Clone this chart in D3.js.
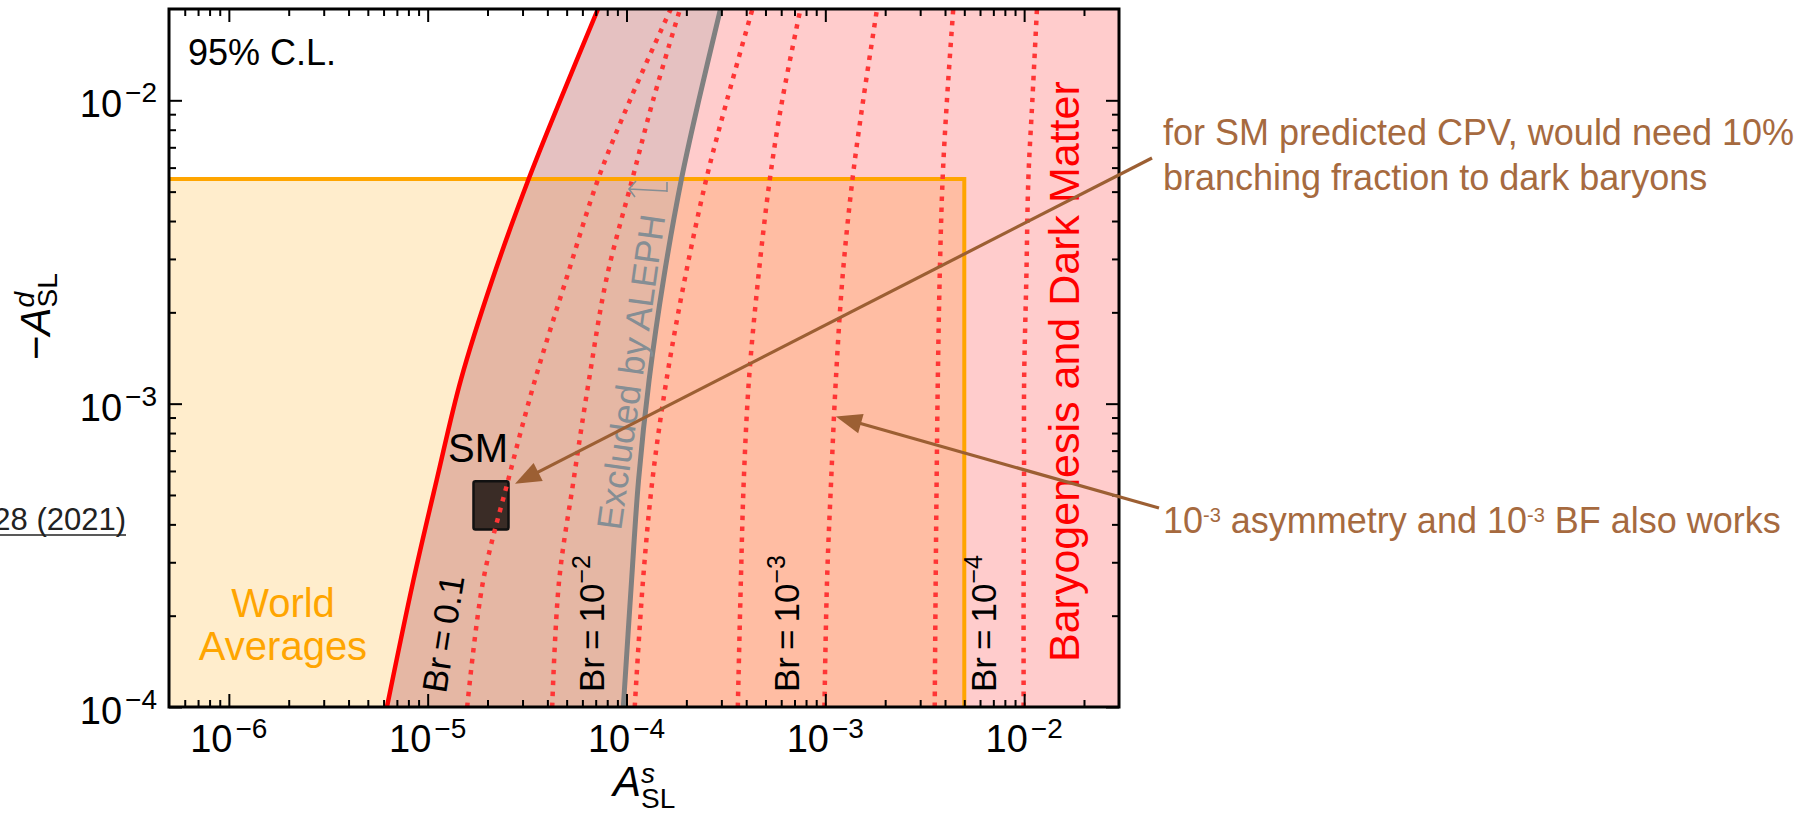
<!DOCTYPE html>
<html>
<head>
<meta charset="utf-8">
<script src="https://cdn.jsdelivr.net/npm/d3@7/dist/d3.min.js"></script>
<style>
body { margin: 0; background: #fff; }
svg { display: block; font-family: "Liberation Sans", Arial, Helvetica, sans-serif; }
</style>
</head>
<body>
<div id="chart"></div>
<script>

/****** data ******/
// -A_SL^d values where every curve below was sampled
var asdGrid = [1e-4, 2.6e-4, 5.6e-4, 1.2e-3, 2.6e-3, 5.5e-3, 1e-2, 2e-2];
// A_SL^s of the red edge of the baryogenesis region
var redEdgeX = [6.24e-6, 8.46e-6, 1.11e-5, 1.47e-5, 2.13e-5, 3.22e-5, 4.64e-5, 7.19e-5];
// A_SL^s of the ALEPH exclusion line
var alephX = [9.64e-5, 1.06e-4, 1.15e-4, 1.30e-4, 1.54e-4, 1.89e-4, 2.31e-4, 2.97e-4];
// dotted Br contours (labelled ones and the ones beside them)
var br1X  = [1.58e-5, 1.9e-5, 2.54e-5, 3.47e-5, 5.0e-5, 7.2e-5, 1.04e-4, 1.67e-4];
var br1bX = [4.23e-5, 4.58e-5, 5.42e-5, 6.48e-5, 7.95e-5, 1.07e-4, 1.36e-4, 1.86e-4];
var br2X  = [1.10e-4, 1.21e-4, 1.35e-4, 1.59e-4, 1.97e-4, 2.52e-4, 3.2e-4, 4.3e-4];
var br2bX = [3.63e-4, 3.76e-4, 3.89e-4, 4.13e-4, 4.6e-4, 5.26e-4, 6.07e-4, 7.5e-4];
var br3X  = [9.9e-4, 1.02e-3, 1.07e-3, 1.13e-3, 1.22e-3, 1.37e-3, 1.55e-3, 1.82e-3];
var br3bX = [3.55e-3, 3.59e-3, 3.63e-3, 3.68e-3, 3.76e-3, 3.89e-3, 4.09e-3, 4.4e-3];
var br4X  = [9.94e-3, 9.94e-3, 9.99e-3, 1.0e-2, 1.026e-2, 1.05e-2, 1.1e-2, 1.16e-2];
var brLabels = ["0.1", "\u22122", "\u22123", "\u22124"];
// world average box (upper corners) and SM point
var worldAvgAs = 5e-3;
var worldAvgAd = 5.5e-3;
var smAs = [1.7e-5, 2.55e-5];
var smAd = [3.85e-4, 5.55e-4];
// arrow targets
var smArrowTip = [2.75e-5, 5.44e-4];
var bfArrowTip = [1.13e-3, 9.07e-4];
// ticks
var xTickExp = [-6, -5, -4, -3, -2];
var yTickExp = [-4, -3, -2];

/****** layout ******/
var width = 1813, height = 815;
var plotLeft = 169, plotRight = 1119, plotTop = 9, plotBottom = 707;
var brown = "#9c5f33";
var brownText = "#a66a3f";

var x = d3.scaleLog().domain([5e-7, 3e-2]).range([plotLeft, plotRight]);
var y = d3.scaleLog().domain([1e-4, 2e-2]).range([plotBottom, plotTop]);

var svg = d3.select("#chart").append("svg")
    .attr("width", width)
    .attr("height", height);

svg.append("clipPath").attr("id", "plotClip")
    .append("rect")
    .attr("x", plotLeft).attr("y", plotTop)
    .attr("width", plotRight - plotLeft).attr("height", plotBottom - plotTop);

var plot = svg.append("g").attr("clip-path", "url(#plotClip)");
var labels = svg.append("g");

var rows = asdGrid.map(function (d, i) {
    return {ad: d, edge: redEdgeX[i], aleph: alephX[i]};
});

// world averages fill
plot.append("rect")
    .attr("x", x.range()[0])
    .attr("y", y(worldAvgAd))
    .attr("width", x(worldAvgAs) - x.range()[0])
    .attr("height", y(1e-4) - y(worldAvgAd))
    .attr("fill", "#ffa500")
    .attr("fill-opacity", 0.2);

// baryogenesis region: right of the red edge
var bdmArea = d3.area()
    .curve(d3.curveCatmullRom)
    .y(function (d) { return y(d.ad); })
    .x0(function (d) { return x(d.edge); })
    .x1(plotRight + 5);
plot.append("path").datum(rows)
    .attr("d", bdmArea)
    .attr("fill", "#ff0000")
    .attr("fill-opacity", 0.2);

// ALEPH excluded band
var alephArea = d3.area()
    .curve(d3.curveCatmullRom)
    .y(function (d) { return y(d.ad); })
    .x0(function (d) { return x(d.edge); })
    .x1(function (d) { return x(d.aleph); });
plot.append("path").datum(rows)
    .attr("d", alephArea)
    .attr("fill", "#a9a9a9")
    .attr("fill-opacity", 0.3);

// world averages outline
plot.append("path")
    .attr("d", "M" + (plotLeft - 5) + "," + y(worldAvgAd) + "H" + x(worldAvgAs) + "V" + (plotBottom + 5))
    .attr("fill", "none")
    .attr("stroke", "#ffa500")
    .attr("stroke-width", 4);

var curveLine = d3.line()
    .curve(d3.curveCatmullRom)
    .x(function (d) { return x(d[0]); })
    .y(function (d) { return y(d[1]); });

function pairs(xs) {
    return xs.map(function (v, i) { return [v, asdGrid[i]]; });
}

plot.append("path").datum(pairs(alephX))
    .attr("d", curveLine)
    .attr("fill", "none")
    .attr("stroke", "#808080")
    .attr("stroke-width", 5);

plot.append("path").datum(pairs(redEdgeX))
    .attr("d", curveLine)
    .attr("fill", "none")
    .attr("stroke", "#ff0000")
    .attr("stroke-width", 4.5);

// SM box
plot.append("rect")
    .attr("x", x(smAs[0]))
    .attr("y", y(smAd[1]))
    .attr("width", x(smAs[1]) - x(smAs[0]))
    .attr("height", y(smAd[0]) - y(smAd[1]))
    .attr("rx", 2)
    .attr("fill", "#3a2c26")
    .attr("stroke", "#111")
    .attr("stroke-width", 2.5);

// dotted Br contours
[br1X, br1bX, br2X, br2bX, br3X, br3bX, br4X].forEach(function (xs) {
    plot.append("path").datum(pairs(xs))
        .attr("d", curveLine)
        .attr("fill", "none")
        .attr("stroke", "#ff3535")
        .attr("stroke-width", 4.5)
        .attr("stroke-dasharray", "4.5,6.5");
});

/****** in-plot text ******/
labels.append("text").attr("x", 188).attr("y", 65)
    .attr("font-size", 36).text("95% C.L.");

labels.append("text").attr("x", 448).attr("y", 462)
    .attr("font-size", 40).text("SM");

var wa = labels.append("text").attr("font-size", 40).attr("fill", "#ffa500").attr("text-anchor", "middle");
wa.append("tspan").attr("x", 283).attr("y", 617).text("World");
wa.append("tspan").attr("x", 283).attr("y", 660).text("Averages");

function brLabel(tx, ty, angle, label) {
    var t = labels.append("text")
        .attr("transform", "translate(" + tx + "," + ty + ") rotate(" + angle + ")")
        .attr("font-size", 35);
    if (label === "0.1") {
        t.append("tspan").text("Br\u2009=\u20090.1");
    } else {
        t.append("tspan").text("Br\u2009=\u200910");
        t.append("tspan").attr("dy", -14).attr("font-size", 25).text(label);
    }
}
brLabel(446, 694, -81, brLabels[0]);
brLabel(604, 692, -90, brLabels[1]);
brLabel(799, 692, -90, brLabels[2]);
brLabel(996, 692, -90, brLabels[3]);

labels.append("text")
    .attr("transform", "translate(621,531) rotate(-82)")
    .attr("font-size", 35.5)
    .attr("fill", "#858e94")
    .text("Excluded by ALEPH");

labels.append("path")
    .attr("d", "M667,182V192M667,191L629,189M636,181L629,189L635,197")
    .attr("fill", "none")
    .attr("stroke", "#858e94")
    .attr("stroke-width", 1.6);

labels.append("text")
    .attr("transform", "translate(1079,662) rotate(-90)")
    .attr("font-size", 43)
    .attr("fill", "#ff0000")
    .text("Baryogenesis and Dark Matter");

/****** axes ******/
var xMajor = xTickExp.map(function (e) { return Math.pow(10, e); });
var yMajor = yTickExp.map(function (e) { return Math.pow(10, e); });
var xMinor = [], yMinor = [];
for (var k = -7; k <= -1; k++) {
    for (var m = 2; m <= 9; m++) {
        var v = m * Math.pow(10, k);
        if (v > 5e-7 && v < 3e-2) xMinor.push(v);
        if (v > 1e-4 && v < 2e-2) yMinor.push(v);
    }
}

function tickLayer(axis, tx, ty, values, size) {
    var g = svg.append("g")
        .attr("transform", "translate(" + tx + "," + ty + ")")
        .call(axis.tickValues(values).tickSize(-size).tickFormat(""));
    g.select(".domain").remove();
    g.selectAll(".tick line").attr("stroke", "#000").attr("stroke-width", 2);
}
tickLayer(d3.axisBottom(x), 0, plotBottom, xMajor, 13);
tickLayer(d3.axisBottom(x), 0, plotBottom, xMinor, 7);
tickLayer(d3.axisTop(x), 0, plotTop, xMajor, 13);
tickLayer(d3.axisTop(x), 0, plotTop, xMinor, 7);
tickLayer(d3.axisLeft(y), plotLeft, 0, yMajor, 13);
tickLayer(d3.axisLeft(y), plotLeft, 0, yMinor, 7);
tickLayer(d3.axisRight(y), plotRight, 0, yMajor, 13);
tickLayer(d3.axisRight(y), plotRight, 0, yMinor, 7);

svg.append("rect")
    .attr("x", plotLeft).attr("y", plotTop)
    .attr("width", plotRight - plotLeft).attr("height", plotBottom - plotTop)
    .attr("fill", "none")
    .attr("stroke", "#000")
    .attr("stroke-width", 3);

// tick labels
xTickExp.forEach(function (e) {
    var t = svg.append("text")
        .attr("x", x(Math.pow(10, e)))
        .attr("y", 752)
        .attr("text-anchor", "middle")
        .attr("font-size", 38);
    t.append("tspan").text("10");
    t.append("tspan").attr("dy", -14).attr("dx", 3).attr("font-size", 28).text("\u2212" + Math.abs(e));
});
yTickExp.forEach(function (e) {
    var t = svg.append("text")
        .attr("x", 157)
        .attr("y", y(Math.pow(10, e)) + 17)
        .attr("text-anchor", "end")
        .attr("font-size", 38);
    t.append("tspan").text("10");
    t.append("tspan").attr("dy", -15).attr("dx", 3).attr("font-size", 28).text("\u2212" + Math.abs(e));
});

// axis titles
var xl = svg.append("text").attr("x", 613).attr("y", 796).attr("font-size", 42);
xl.append("tspan").attr("font-style", "italic").text("A");
xl.append("tspan").attr("font-style", "italic").attr("font-size", 28).attr("dy", -13).text("s");
xl.append("tspan").attr("font-size", 28).attr("dx", -14).attr("dy", 25).text("SL");

var yl = svg.append("text").attr("transform", "translate(50,360) rotate(-90)").attr("font-size", 42);
yl.append("tspan").text("\u2212");
yl.append("tspan").attr("font-style", "italic").text("A");
yl.append("tspan").attr("font-style", "italic").attr("font-size", 28).attr("dy", -16).text("d");
yl.append("tspan").attr("font-size", 28).attr("dx", -15.6).attr("dy", 23).text("SL");

/****** annotations ******/
svg.append("text").attr("x", 126).attr("y", 530)
    .attr("text-anchor", "end")
    .attr("font-size", 31)
    .attr("fill", "#222")
    .text("28 (2021)");
svg.append("line").attr("x1", 0).attr("x2", 126).attr("y1", 535).attr("y2", 535)
    .attr("stroke", "#222").attr("stroke-width", 1.5);

var n1 = svg.append("text").attr("font-size", 36).attr("fill", brownText);
n1.append("tspan").attr("x", 1163).attr("y", 145).text("for SM predicted CPV, would need 10%");
n1.append("tspan").attr("x", 1163).attr("y", 190).text("branching fraction to dark baryons");

var n2 = svg.append("text").attr("x", 1163).attr("y", 533).attr("font-size", 36).attr("fill", brownText);
n2.append("tspan").text("10");
n2.append("tspan").attr("dy", -11).attr("font-size", 20).text("-3");
n2.append("tspan").attr("dy", 11).text(" asymmetry and 10");
n2.append("tspan").attr("dy", -11).attr("font-size", 20).text("-3");
n2.append("tspan").attr("dy", 11).text(" BF also works");

function arrow(x1, y1, x2, y2) {
    var dx = x2 - x1, dy = y2 - y1, len = Math.sqrt(dx * dx + dy * dy);
    var ux = dx / len, uy = dy / len;
    var headLen = 26, headHalf = 10;
    var bx = x2 - ux * headLen, by = y2 - uy * headLen;
    svg.append("line")
        .attr("x1", x1).attr("y1", y1).attr("x2", bx + ux * 4).attr("y2", by + uy * 4)
        .attr("stroke", brown).attr("stroke-width", 3.2);
    svg.append("path")
        .attr("d", "M" + x2 + "," + y2 +
            "L" + (bx - uy * headHalf) + "," + (by + ux * headHalf) +
            "L" + (bx + uy * headHalf) + "," + (by - ux * headHalf) + "Z")
        .attr("fill", brown);
}
arrow(1152, 158, x(smArrowTip[0]), y(smArrowTip[1]));
arrow(1159, 508, x(bfArrowTip[0]), y(bfArrowTip[1]));

</script>
</body>
</html>
